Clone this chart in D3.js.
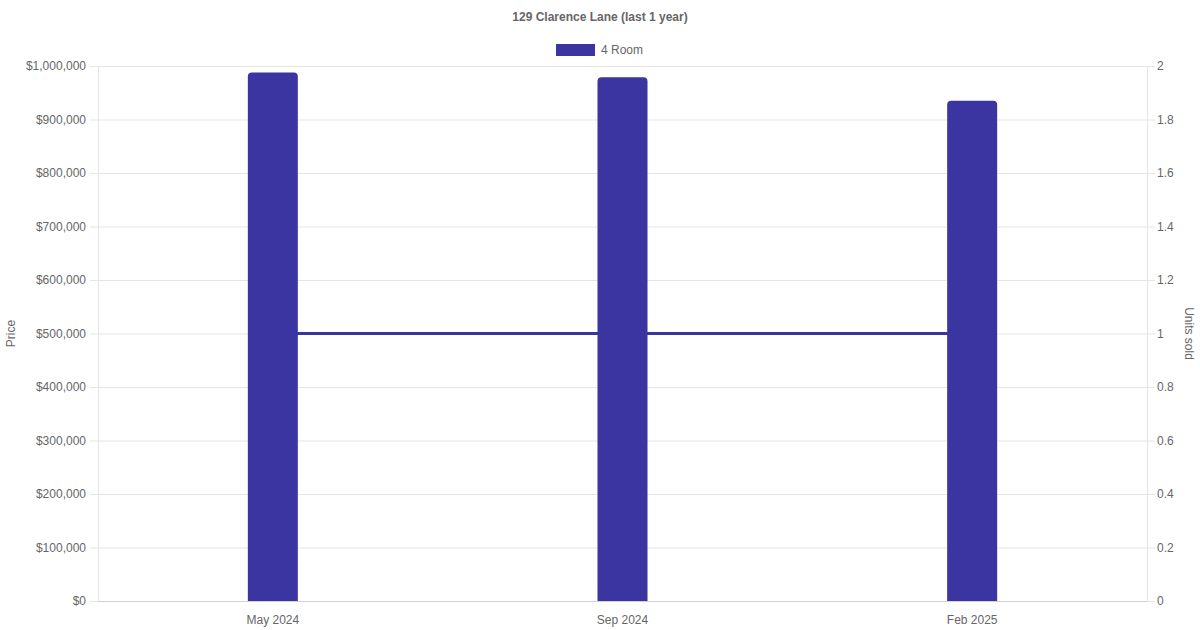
<!DOCTYPE html>
<html><head><meta charset="utf-8">
<script src="https://cdn.jsdelivr.net/npm/d3@7/dist/d3.min.js"></script>
<style>body{margin:0;background:#fff}svg{display:block}text{font-family:"Liberation Sans",Arial,sans-serif}</style>
</head><body><svg id="c" width="1200" height="630"></svg>
<script>
const categories = ["May 2024", "Sep 2024", "Feb 2025"];
const prices = [988000, 979000, 935000];
const unitsSold = [1, 1, 1];
const priceTicks = [0,100000,200000,300000,400000,500000,600000,700000,800000,900000,1000000];
const unitTicks = [0,0.2,0.4,0.6,0.8,1,1.2,1.4,1.6,1.8,2];
const seriesName = "4 Room";
const title = "129 Clarence Lane (last 1 year)";

const color = "#3a35a0", txt = "#666", grid = "#e5e5e5";
const svg = d3.select("#c");
const L = 98, R = 1147, T = 66, B = 601;
const x = d3.scaleBand().domain(categories).range([L, R]);
const y = d3.scaleLinear().domain([0, 1000000]).range([B, T]);
const y2 = d3.scaleLinear().domain([0, 2]).range([B, T]);

// grid
svg.append("g").selectAll("line").data(priceTicks).join("line")
  .attr("x1", L-8).attr("x2", R).attr("y1", d=>y(d)+0.5).attr("y2", d=>y(d)+0.5)
  .attr("stroke", grid);
svg.append("g").selectAll("line").data(unitTicks).join("line")
  .attr("x1", R).attr("x2", R+8).attr("y1", d=>y2(d)+0.5).attr("y2", d=>y2(d)+0.5)
  .attr("stroke", grid);
svg.append("line").attr("x1", L+0.5).attr("x2", L+0.5).attr("y1", T).attr("y2", B).attr("stroke", grid);
svg.append("line").attr("x1", R+0.5).attr("x2", R+0.5).attr("y1", T).attr("y2", B).attr("stroke", grid);
svg.append("line").attr("x1", L).attr("x2", R).attr("y1", B+0.5).attr("y2", B+0.5).attr("stroke", "#d0d0d0");

// left axis labels
const fmt = d => "$" + d3.format(",")(d);
svg.append("g").selectAll("text").data(priceTicks).join("text")
  .attr("x", L-12).attr("y", d=>y(d)).attr("dy", "0.35em").attr("text-anchor", "end")
  .attr("font-size", 12).attr("fill", txt).text(fmt);
svg.append("g").selectAll("text").data(unitTicks).join("text")
  .attr("x", R+10).attr("y", d=>y2(d)).attr("dy", "0.35em").attr("text-anchor", "start")
  .attr("font-size", 12).attr("fill", txt).text(d=>d3.format("")(+d.toFixed(1)));
svg.append("g").selectAll("text").data(categories).join("text")
  .attr("x", d=>x(d)+x.bandwidth()/2).attr("y", 620).attr("dy", "0.35em").attr("text-anchor", "middle")
  .attr("font-size", 12).attr("fill", txt).text(d=>d);

// axis titles
svg.append("text").attr("transform", `translate(15,${(T+B)/2}) rotate(-90)`).attr("text-anchor","middle")
  .attr("font-size", 12).attr("fill", txt).text("Price");
svg.append("text").attr("transform", `translate(1185,${(T+B)/2}) rotate(90)`).attr("text-anchor","middle")
  .attr("font-size", 12).attr("fill", txt).text("Units sold");

// line (behind bars)
const line = d3.line().x((d,i)=>x(categories[i])+x.bandwidth()/2).y(d=>y2(d));
svg.append("path").datum(unitsSold).attr("d", line).attr("fill","none").attr("stroke", color).attr("stroke-width", 3);

// bars
const bw = 50, r = 4;
svg.append("g").selectAll("path").data(prices).join("path")
  .attr("fill", color)
  .attr("d", (d,i)=>{
    const cx = x(categories[i]) + x.bandwidth()/2, x0 = cx - bw/2, x1 = cx + bw/2, yt = y(d);
    return `M${x0},${B}V${yt+r}Q${x0},${yt} ${x0+r},${yt}H${x1-r}Q${x1},${yt} ${x1},${yt+r}V${B}Z`;
  });

// title & legend
svg.append("text").attr("x", 600).attr("y", 17).attr("dy","0.35em").attr("text-anchor","middle")
  .attr("font-size", 12).attr("font-weight","bold").attr("fill", txt).text(title);
svg.append("rect").attr("x", 556).attr("y", 44).attr("width", 39).attr("height", 12).attr("fill", color);
svg.append("text").attr("x", 601).attr("y", 50).attr("dy","0.35em").attr("font-size", 12).attr("fill", txt).text(seriesName);
</script></body></html>
